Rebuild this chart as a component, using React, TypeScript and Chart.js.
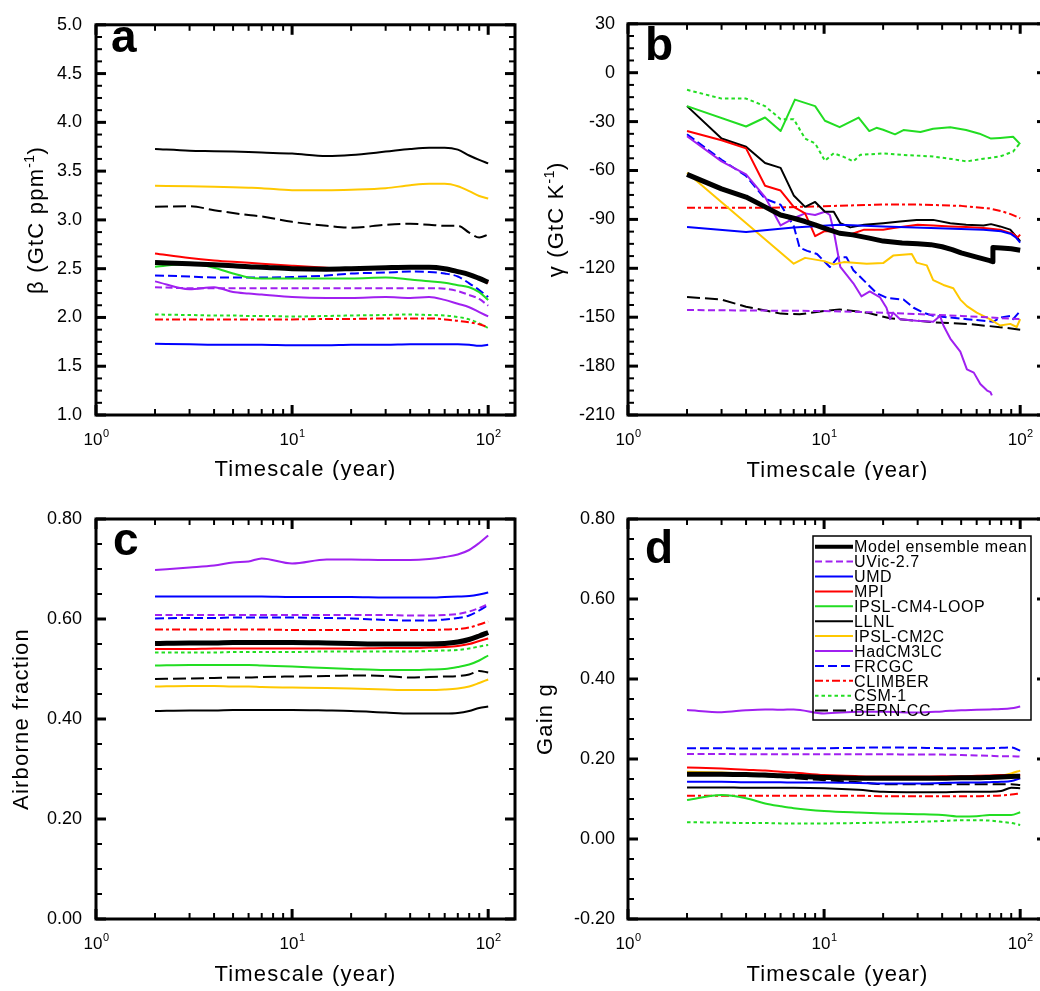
import React, { useEffect, useRef } from 'react';
import { Chart, registerables } from 'chart.js';

Chart.register(...registerables);

const FONT = '"Liberation Sans", Arial, Helvetica, sans-serif';

const MODELS = ['Model ensemble mean', 'UVic-2.7', 'UMD', 'MPI', 'IPSL-CM4-LOOP', 'LLNL', 'IPSL-CM2C', 'HadCM3LC', 'FRCGC', 'CLIMBER', 'CSM-1', 'BERN-CC'];
const COLORS = ['#000000', '#A020F0', '#0000FF', '#FF0000', '#22DD22', '#000000', '#FFC800', '#A020F0', '#0000FF', '#FF0000', '#22DD22', '#000000'];
const WIDTHS = [5, 2, 2, 2, 2, 2, 2, 2, 2, 2, 2, 2];
const DASHES: number[][] = [[], [7, 3.5], [], [], [], [], [], [], [9, 4], [8, 3, 3, 3], [3.5, 3], [13, 5]];

// shared timescales (years) for panels a, c, d
const XS = [2, 3, 4, 5, 6, 7, 10, 15, 20, 30, 40, 50, 60, 70, 80, 90, 100];

// ---- panel a: beta (GtC ppm-1)
const A_MEAN = [2.563, 2.55, 2.54, 2.53, 2.52, 2.515, 2.5, 2.495, 2.5, 2.51, 2.515, 2.515, 2.5, 2.47, 2.44, 2.4, 2.36];
const A_UVIC = [2.31, 2.3, 2.3, 2.3, 2.3, 2.3, 2.3, 2.3, 2.3, 2.3, 2.3, 2.3, 2.295, 2.27, 2.23, 2.19, 2.12];
const A_UMD = [1.73, 1.725, 1.72, 1.72, 1.72, 1.72, 1.715, 1.715, 1.72, 1.72, 1.725, 1.725, 1.725, 1.725, 1.72, 1.71, 1.72];
const A_MPI = [2.656, 2.61, 2.585, 2.57, 2.56, 2.55, 2.53, 2.51, 2.5, 2.505, 2.51, 2.51, 2.495, 2.465, 2.435, 2.395, 2.355];
const A_IPSL4 = [2.52, 2.55, 2.51, 2.45, 2.41, 2.4, 2.4, 2.4, 2.4, 2.41, 2.39, 2.37, 2.355, 2.33, 2.31, 2.26, 2.18];
const A_LLNL = [3.727, 3.71, 3.705, 3.7, 3.695, 3.69, 3.68, 3.655, 3.665, 3.7, 3.727, 3.74, 3.74, 3.72, 3.66, 3.615, 3.58];
const A_IPSL2 = [3.35, 3.345, 3.34, 3.335, 3.33, 3.325, 3.305, 3.305, 3.31, 3.325, 3.355, 3.37, 3.37, 3.345, 3.295, 3.245, 3.22];
const A_HAD = [2.37, 2.29, 2.31, 2.26, 2.245, 2.235, 2.21, 2.2, 2.2, 2.21, 2.2, 2.21, 2.18, 2.14, 2.105, 2.055, 2.01];
const A_FRCGC = [2.43, 2.42, 2.41, 2.41, 2.41, 2.41, 2.415, 2.43, 2.45, 2.46, 2.47, 2.465, 2.45, 2.42, 2.35, 2.28, 2.21];
const A_CLIMBER = [1.98, 1.98, 1.98, 1.98, 1.98, 1.98, 1.98, 1.985, 1.985, 1.99, 1.99, 1.99, 1.98, 1.965, 1.95, 1.93, 1.9];
const A_CSM = [2.03, 2.025, 2.02, 2.02, 2.015, 2.015, 2.01, 2.015, 2.02, 2.025, 2.03, 2.025, 2.02, 2.005, 1.98, 1.94, 1.89];
const A_BERN = [3.135, 3.14, 3.1, 3.07, 3.05, 3.035, 2.98, 2.94, 2.92, 2.95, 2.96, 2.95, 2.94, 2.94, 2.87, 2.82, 2.85];

// ---- panel b: gamma (GtC K-1), [timescale, value] pairs
const B_MEAN = [[2, -62.4], [3, -71.3], [4, -76.3], [5, -82.3], [6, -87.3], [7, -89.3], [8, -91.3], [9, -93.3], [10, -95.3], [12, -98.5], [14, -99.5], [17, -101.5], [20, -103.3], [25, -104.5], [30, -105], [35, -105.5], [40, -106.8], [45, -108.5], [50, -110.5], [60, -113.2], [70, -115.3], [72.5, -116], [72.6, -107.3], [80, -107.5], [90, -108], [100, -108.9]];
const B_UVIC = [[2, -145.6], [10, -146.2], [20, -147.2], [50, -149.2], [100, -151.2]];
const B_UMD = [[2, -94.7], [4, -97.7], [7, -94.9], [12, -93.3], [20, -94.3], [35, -95.3], [65, -96.3], [80, -97.3], [90, -99], [95, -101], [100, -104.3]];
const B_MPI = [[2, -35.8], [3, -41.4], [4, -46.4], [5, -69.4], [6, -72.3], [7, -82.3], [8, -86.3], [9, -100.3], [10, -97.3], [11, -97.3], [13.6, -99.3], [16, -96.3], [20, -96.3], [22.6, -95.3], [30, -93.3], [36, -93.7], [44, -94.3], [53, -94.7], [65, -95.3], [79, -96.3], [92, -98.9], [97, -101], [100, -99.3]];
const B_IPSL4 = [[2, -20.5], [4, -33], [5, -27.5], [6, -35.8], [7.1, -16.5], [9, -20.5], [10.1, -29.5], [12, -33.4], [15, -27.5], [17, -35.8], [18.5, -33.8], [20, -35], [23, -37.8], [25.4, -35.2], [31, -36.4], [36, -34.4], [44, -33.4], [53, -35.2], [62, -37.4], [71, -40.4], [79, -40], [92, -39.3], [100, -43.8]];
const B_LLNL = [[2, -20.5], [3, -40.4], [4, -45.4], [5, -55.4], [6, -58.4], [7, -75.3], [8, -82.3], [9, -79.3], [10.1, -85.3], [11.2, -85.3], [12.1, -92.3], [13.6, -94.9], [16, -93.3], [20, -92.3], [24.4, -91.3], [29.6, -90.3], [36, -90.3], [44, -92.3], [53, -93.3], [65, -93.7], [71, -92.9], [79, -94.3], [89, -96.3], [100, -103.3]];
const B_IPSL2 = [[2, -61.4], [7, -117.2], [8, -113.6], [10, -115.6], [11.2, -117.6], [12.6, -116.2], [16.5, -117.2], [20, -116.8], [22.5, -112.2], [28, -111.2], [29.6, -116.5], [33.4, -118.2], [36, -127.2], [40.6, -130.2], [45.6, -132.2], [49.5, -139.2], [53.5, -143.2], [60, -147.2], [70, -151.2], [79, -155.1], [89, -154.1], [96, -156], [100, -151.2]];
const B_HAD = [[2, -39], [3, -54.4], [4, -62.4], [5, -76.3], [6, -93.7], [7, -89.3], [8, -86.3], [9, -87.3], [10.1, -85.3], [10.7, -87.3], [11.2, -97.3], [12.1, -119.2], [14.1, -129.2], [15.5, -137.2], [17.1, -134.2], [19.3, -137.9], [20.8, -144.2], [21.7, -151.2], [22.5, -147.2], [24.4, -151.2], [29.6, -152.2], [36, -152.8], [39, -149.2], [40.6, -155.1], [44, -163.1], [49.5, -171.1], [53.5, -182], [58, -184], [62.6, -191], [67.8, -195], [70.5, -196], [71.7, -198]];
const B_FRCGC = [[2, -37.8], [3, -53.4], [4, -63.4], [5, -77.3], [6, -81], [7, -94], [7.5, -107.3], [8.2, -109.3], [9.2, -111.2], [10.7, -119.2], [11.8, -113.2], [13, -113.2], [14.1, -121.2], [16.5, -129.2], [18.5, -135.2], [20.9, -138.2], [25.4, -139.2], [28.6, -144.2], [32.1, -147.2], [36, -149.2], [44, -150.2], [53.5, -151.2], [65, -152.2], [73, -152.8], [79, -150.2], [89, -149.2], [92, -151.2], [100, -146.2]];
const B_CLIMBER = [[2, -82.9], [5, -82.9], [10, -81.9], [20, -80.9], [30, -80.9], [50, -81.7], [70, -83.3], [80, -84.9], [90, -86.9], [100, -89.3]];
const B_CSM = [[2, -10.5], [3, -15.9], [4, -15.9], [5, -20.5], [6, -28.5], [7, -28.5], [8, -40.4], [9, -43.4], [10.1, -54], [11.2, -49.4], [12.5, -51.5], [14.1, -54.4], [15.3, -50.4], [20, -49.5], [25, -50.4], [36, -51.4], [45, -53], [53.5, -54.4], [65, -52.8], [79, -51.4], [92, -48.4], [100, -43]];
const B_BERN = [[2, -137.6], [3, -139.2], [4, -143.6], [6, -147.8], [7.5, -148.2], [10, -146.2], [12, -145.2], [16.5, -147.2], [21.7, -150.7], [36, -153.1], [53.5, -154.1], [79, -156.1], [100, -157.7]];

// ---- panel c: airborne fraction
const C_MEAN = [0.551, 0.552, 0.552, 0.553, 0.553, 0.553, 0.553, 0.552, 0.551, 0.55, 0.55, 0.55, 0.551, 0.554, 0.559, 0.566, 0.573];
const C_UVIC = [0.608, 0.608, 0.608, 0.608, 0.608, 0.608, 0.608, 0.608, 0.608, 0.608, 0.607, 0.607, 0.608, 0.61, 0.615, 0.622, 0.63];
const C_UMD = [0.645, 0.645, 0.645, 0.645, 0.645, 0.645, 0.644, 0.644, 0.644, 0.643, 0.643, 0.643, 0.644, 0.645, 0.646, 0.649, 0.653];
const C_MPI = [0.54, 0.54, 0.541, 0.541, 0.541, 0.541, 0.541, 0.541, 0.541, 0.542, 0.542, 0.543, 0.544, 0.546, 0.55, 0.556, 0.561];
const C_IPSL4 = [0.507, 0.508, 0.508, 0.508, 0.508, 0.507, 0.505, 0.502, 0.5, 0.498, 0.498, 0.499, 0.5, 0.504, 0.509, 0.517, 0.527];
const C_LLNL = [0.416, 0.417, 0.417, 0.418, 0.418, 0.418, 0.418, 0.417, 0.416, 0.413, 0.411, 0.411, 0.411, 0.412, 0.416, 0.422, 0.425];
const C_IPSL2 = [0.465, 0.466, 0.466, 0.465, 0.465, 0.464, 0.463, 0.462, 0.461, 0.459, 0.458, 0.458, 0.459, 0.461, 0.465, 0.472, 0.479];
const C_HAD = [0.698, 0.703, 0.707, 0.713, 0.715, 0.721, 0.711, 0.719, 0.719, 0.718, 0.718, 0.72, 0.724, 0.729, 0.738, 0.752, 0.767];
const C_FRCGC = [0.601, 0.602, 0.602, 0.603, 0.603, 0.603, 0.603, 0.602, 0.601, 0.598, 0.597, 0.597, 0.599, 0.602, 0.607, 0.617, 0.628];
const C_CLIMBER = [0.579, 0.579, 0.579, 0.579, 0.579, 0.579, 0.578, 0.578, 0.578, 0.578, 0.578, 0.578, 0.579, 0.58, 0.583, 0.589, 0.595];
const C_CSM = [0.533, 0.533, 0.533, 0.534, 0.534, 0.534, 0.534, 0.535, 0.535, 0.535, 0.535, 0.536, 0.537, 0.538, 0.541, 0.545, 0.548];
const C_BERN = [0.48, 0.481, 0.482, 0.483, 0.483, 0.484, 0.485, 0.486, 0.487, 0.486, 0.483, 0.484, 0.485, 0.486, 0.489, 0.496, 0.493];

// ---- panel d: gain g
const D_MEAN = [0.162, 0.162, 0.161, 0.16, 0.158, 0.157, 0.154, 0.152, 0.152, 0.152, 0.152, 0.153, 0.153, 0.154, 0.155, 0.156, 0.157];
const D_UVIC = [0.2125, 0.2125, 0.212, 0.212, 0.212, 0.212, 0.212, 0.212, 0.212, 0.211, 0.211, 0.21, 0.209, 0.208, 0.207, 0.207, 0.206];
const D_UMD = [0.143, 0.143, 0.142, 0.142, 0.142, 0.141, 0.141, 0.14, 0.139, 0.139, 0.14, 0.141, 0.141, 0.142, 0.143, 0.145, 0.152];
const D_MPI = [0.179, 0.176, 0.173, 0.171, 0.168, 0.166, 0.16, 0.157, 0.156, 0.156, 0.157, 0.157, 0.158, 0.159, 0.16, 0.16, 0.16];
const D_IPSL4 = [0.0975, 0.11, 0.102, 0.089, 0.082, 0.077, 0.07, 0.066, 0.064, 0.062, 0.06, 0.056, 0.057, 0.06, 0.06, 0.06, 0.067];
const D_LLNL = [0.129, 0.129, 0.128, 0.128, 0.128, 0.128, 0.127, 0.123, 0.118, 0.117, 0.117, 0.118, 0.118, 0.118, 0.12, 0.128, 0.127];
const D_IPSL2 = [0.168, 0.166, 0.164, 0.162, 0.16, 0.159, 0.156, 0.154, 0.153, 0.153, 0.154, 0.155, 0.156, 0.157, 0.159, 0.164, 0.171];
const D_HAD = [0.3225, 0.317, 0.322, 0.324, 0.323, 0.324, 0.314, 0.318, 0.318, 0.316, 0.319, 0.322, 0.323, 0.324, 0.325, 0.327, 0.331];
const D_FRCGC = [0.227, 0.227, 0.226, 0.226, 0.226, 0.226, 0.227, 0.228, 0.229, 0.228, 0.227, 0.227, 0.227, 0.227, 0.228, 0.229, 0.221];
const D_CLIMBER = [0.108, 0.108, 0.108, 0.108, 0.108, 0.108, 0.108, 0.108, 0.107, 0.107, 0.107, 0.107, 0.107, 0.108, 0.109, 0.111, 0.114];
const D_CSM = [0.042, 0.041, 0.04, 0.04, 0.039, 0.039, 0.039, 0.04, 0.041, 0.043, 0.045, 0.047, 0.047, 0.046, 0.043, 0.04, 0.035];
const D_BERN = [0.164, 0.162, 0.16, 0.157, 0.155, 0.152, 0.147, 0.142, 0.137, 0.137, 0.137, 0.137, 0.137, 0.137, 0.137, 0.137, 0.135];

const X_MIN = 1;
const X_MAX = 137;
const X_LABELS = [[1, '0'], [10, '1'], [100, '2']];

type Pt = { x: number; y: number };
const fromShared = (ys: number[]): Pt[] => XS.map((x, i) => ({ x, y: ys[i] }));
const fromPairs = (ps: number[][]): Pt[] => ps.map((p) => ({ x: p[0], y: p[1] }));

type PanelCfg = {
  key: string; left: number; top: number; width: number; height: number;
  area: { left: number; top: number; right: number; bottom: number };
  yMin: number; yMax: number; yStep: number; yMinor: number; yDec: number; yPad: number;
  yTitle: string[]; yTitleX: number;
  letter: string; letterX: number; letterY: number; xTitleY: number;
  legend: boolean; smooth: boolean; series: Pt[][];
};

const PANELS: PanelCfg[] = [
  {
    key: 'a', left: 0, top: 0, width: 520, height: 480,
    area: { left: 96, top: 14, right: 515, bottom: 415 },
    yMin: 1, yMax: 5, yStep: 0.5, yMinor: 0.125, yDec: 1, yPad: 14,
    yTitle: ['β (GtC ppm', '-1', ')'], yTitleX: 43,
    letter: 'a', letterX: 111, letterY: 52, xTitleY: 476, legend: false, smooth: true,
    series: [A_MEAN, A_UVIC, A_UMD, A_MPI, A_IPSL4, A_LLNL, A_IPSL2, A_HAD, A_FRCGC, A_CLIMBER, A_CSM, A_BERN].map(fromShared),
  },
  {
    key: 'b', left: 520, top: 0, width: 540, height: 480,
    area: { left: 108, top: 14, right: 527, bottom: 415 },
    yMin: -210, yMax: 30, yStep: 30, yMinor: 7.5, yDec: 0, yPad: 13,
    yTitle: ['γ (GtC K', '-1', ')'], yTitleX: 43,
    letter: 'b', letterX: 125, letterY: 60, xTitleY: 477, legend: false, smooth: false,
    series: [B_MEAN, B_UVIC, B_UMD, B_MPI, B_IPSL4, B_LLNL, B_IPSL2, B_HAD, B_FRCGC, B_CLIMBER, B_CSM, B_BERN].map(fromPairs),
  },
  {
    key: 'c', left: 0, top: 480, width: 520, height: 511,
    area: { left: 96, top: 39, right: 515, bottom: 439 },
    yMin: 0, yMax: 0.8, yStep: 0.2, yMinor: 0.05, yDec: 2, yPad: 14,
    yTitle: ['Airborne fraction', '', ''], yTitleX: 28,
    letter: 'c', letterX: 113, letterY: 75, xTitleY: 501, legend: false, smooth: true,
    series: [C_MEAN, C_UVIC, C_UMD, C_MPI, C_IPSL4, C_LLNL, C_IPSL2, C_HAD, C_FRCGC, C_CLIMBER, C_CSM, C_BERN].map(fromShared),
  },
  {
    key: 'd', left: 520, top: 480, width: 540, height: 511,
    area: { left: 108, top: 39, right: 527, bottom: 439 },
    yMin: -0.2, yMax: 0.8, yStep: 0.2, yMinor: 0.05, yDec: 2, yPad: 13,
    yTitle: ['Gain g', '', ''], yTitleX: 32,
    letter: 'd', letterX: 125, letterY: 83, xTitleY: 501, legend: true, smooth: true,
    series: [D_MEAN, D_UVIC, D_UMD, D_MPI, D_IPSL4, D_LLNL, D_IPSL2, D_HAD, D_FRCGC, D_CLIMBER, D_CSM, D_BERN].map(fromShared),
  },
];

function setSpacing(ctx: any, s: string) {
  if ('letterSpacing' in ctx) ctx.letterSpacing = s;
}

function makePlugin(p: PanelCfg) {
  return {
    id: 'panelDecor_' + p.key,
    afterDraw(chart: any) {
      const ctx: CanvasRenderingContext2D = chart.ctx;
      const a = chart.chartArea;
      const xs = chart.scales.x;
      const ys = chart.scales.y;
      ctx.save();
      ctx.strokeStyle = '#000';
      ctx.fillStyle = '#000';
      ctx.lineCap = 'butt';
      const seg = (x1: number, y1: number, x2: number, y2: number, w: number) => {
        ctx.lineWidth = w;
        ctx.beginPath();
        ctx.moveTo(x1, y1);
        ctx.lineTo(x2, y2);
        ctx.stroke();
      };
      // x ticks (log decades)
      for (const dec of [1, 10, 100]) {
        for (let m = 1; m <= 9; m++) {
          const v = dec * m;
          if (v > xs.max) continue;
          const px = xs.getPixelForValue(v);
          const major = m === 1;
          const len = major ? 10 : 6;
          const w = major ? 3 : 2;
          seg(px, a.bottom, px, a.bottom - len, w);
          seg(px, a.top, px, a.top + len, w);
        }
      }
      // y ticks
      const n = Math.round((p.yMax - p.yMin) / p.yMinor);
      const ratio = Math.round(p.yStep / p.yMinor);
      for (let k = 0; k <= n; k++) {
        const v = p.yMin + k * p.yMinor;
        const py = ys.getPixelForValue(v);
        const major = k % ratio === 0;
        const len = major ? 10 : 6;
        const w = major ? 3 : 2;
        seg(a.left, py, a.left + len, py, w);
        seg(a.right, py, a.right - len, py, w);
      }
      // frame
      ctx.lineWidth = 3;
      ctx.lineJoin = 'miter';
      ctx.strokeRect(a.left, a.top, a.right - a.left, a.bottom - a.top);

      // x tick labels 10^n
      ctx.textBaseline = 'alphabetic';
      ctx.textAlign = 'left';
      for (const [v, e] of X_LABELS as [number, string][]) {
        const px = xs.getPixelForValue(v);
        ctx.font = `17px ${FONT}`;
        const w1 = ctx.measureText('10').width;
        ctx.font = `11px ${FONT}`;
        const w2 = ctx.measureText(e).width;
        const x0 = px - (w1 + w2) / 2;
        ctx.font = `17px ${FONT}`;
        ctx.fillText('10', x0, a.bottom + 30);
        ctx.font = `11px ${FONT}`;
        ctx.fillText(e, x0 + w1 + 0.5, a.bottom + 22);
      }

      // x title
      ctx.font = `22px ${FONT}`;
      setSpacing(ctx, '1.2px');
      ctx.textAlign = 'center';
      ctx.fillText('Timescale (year)', (a.left + a.right) / 2, p.xTitleY);

      // y title (rotated, with optional superscript)
      ctx.save();
      ctx.translate(p.yTitleX, (a.top + a.bottom) / 2);
      ctx.rotate(-Math.PI / 2);
      ctx.textAlign = 'left';
      const [pre, sup, post] = p.yTitle;
      ctx.font = `22px ${FONT}`;
      const wPre = ctx.measureText(pre).width;
      const wPost = post ? ctx.measureText(post).width : 0;
      ctx.font = `14px ${FONT}`;
      setSpacing(ctx, '0.5px');
      const wSup = sup ? ctx.measureText(sup).width : 0;
      const total = wPre + wSup + wPost;
      let cx = -total / 2;
      ctx.font = `22px ${FONT}`;
      setSpacing(ctx, '1.2px');
      ctx.fillText(pre, cx, 0);
      cx += wPre;
      if (sup) {
        ctx.font = `14px ${FONT}`;
        setSpacing(ctx, '0.5px');
        ctx.fillText(sup, cx, -9);
        cx += wSup;
      }
      if (post) {
        ctx.font = `22px ${FONT}`;
        setSpacing(ctx, '1.2px');
        ctx.fillText(post, cx, 0);
      }
      ctx.restore();

      // panel letter
      setSpacing(ctx, '0px');
      ctx.textAlign = 'left';
      ctx.font = `bold 46px ${FONT}`;
      ctx.fillText(p.letter, p.letterX, p.letterY);

      // legend
      if (p.legend) {
        ctx.lineWidth = 1.5;
        ctx.strokeStyle = '#000';
        ctx.strokeRect(293, 56, 218, 184);
        ctx.font = `16px ${FONT}`;
        setSpacing(ctx, '0.6px');
        for (let i = 0; i < MODELS.length; i++) {
          const ry = 66.7 + i * 14.9;
          ctx.save();
          ctx.strokeStyle = COLORS[i];
          ctx.lineWidth = i === 0 ? 4 : 2;
          ctx.setLineDash(DASHES[i]);
          ctx.beginPath();
          ctx.moveTo(295, ry);
          ctx.lineTo(333, ry);
          ctx.stroke();
          ctx.restore();
          ctx.fillStyle = '#000';
          ctx.fillText(MODELS[i], 334, ry + 5.7);
        }
      }
      setSpacing(ctx, '0px');
      ctx.restore();
    },
  };
}

function Panel({ p }: { p: PanelCfg }) {
  const ref = useRef<HTMLCanvasElement>(null);
  useEffect(() => {
    const datasets = p.series.map((data, i) => ({
      label: MODELS[i],
      data,
      borderColor: COLORS[i],
      backgroundColor: COLORS[i],
      borderWidth: WIDTHS[i],
      borderDash: DASHES[i],
      borderJoinStyle: 'round' as const,
      pointRadius: 0,
      pointHoverRadius: 0,
      fill: false,
      tension: 0,
      cubicInterpolationMode: p.smooth ? ('monotone' as const) : ('default' as const),
    }));
    const chart = new Chart(ref.current as HTMLCanvasElement, {
      type: 'line',
      data: { datasets },
      options: {
        animation: false,
        responsive: false,
        maintainAspectRatio: false,
        devicePixelRatio: 1,
        events: [],
        layout: { padding: { left: 0, top: p.area.top, right: p.width - p.area.right, bottom: 0 } },
        plugins: { legend: { display: false }, tooltip: { enabled: false }, title: { display: false } },
        scales: {
          x: {
            type: 'logarithmic',
            min: X_MIN,
            max: X_MAX,
            grid: { display: false, drawTicks: false },
            border: { display: false },
            ticks: { display: false },
            afterFit: (s: any) => { s.height = p.height - p.area.bottom; },
          },
          y: {
            type: 'linear',
            min: p.yMin,
            max: p.yMax,
            grid: { display: false, drawTicks: false },
            border: { display: false },
            ticks: {
              stepSize: p.yStep,
              padding: p.yPad,
              color: '#000',
              font: { family: FONT, size: 18 },
              callback: (v: any) => {
                const n = Number(v);
                return (Math.abs(n) < 1e-9 ? 0 : n).toFixed(p.yDec);
              },
            },
            afterFit: (s: any) => { s.width = p.area.left; },
          },
        },
      } as any,
      plugins: [makePlugin(p)],
    });
    return () => chart.destroy();
  }, []);
  return (
    <canvas
      ref={ref}
      width={p.width}
      height={p.height}
      style={{ position: 'absolute', left: p.left, top: p.top, width: p.width, height: p.height }}
    />
  );
}

export default function App() {
  return (
    <div style={{ position: 'absolute', left: 0, top: 0, width: 1040, height: 991, overflow: 'hidden', background: '#fff' }}>
      {PANELS.map((p) => (
        <Panel key={p.key} p={p} />
      ))}
    </div>
  );
}
